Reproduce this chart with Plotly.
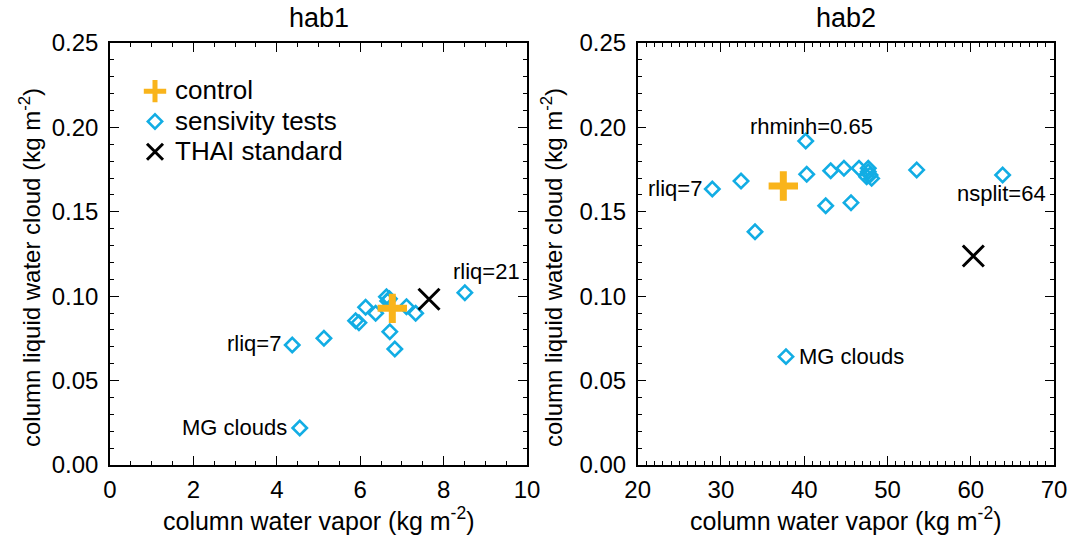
import plotly.graph_objects as go

# ---------------- data ----------------
panel_titles = ["hab1", "hab2"]

hab1_sens_x = [4.37, 5.13, 5.89, 5.97, 6.13, 6.37, 6.63, 6.66, 6.70, 6.71, 6.83, 7.11, 7.33, 8.51, 4.55]
hab1_sens_y = [0.0711, 0.0751, 0.0855, 0.0843, 0.0934, 0.0899, 0.0997, 0.0972, 0.0985, 0.0790, 0.0687, 0.0938, 0.0899, 0.1021, 0.0219]
hab1_ctrl_x = [6.77]
hab1_ctrl_y = [0.0928]
hab1_thai_x = [7.65]
hab1_thai_y = [0.0982]

hab2_sens_x = [28.96, 32.41, 34.09, 40.18, 40.30, 42.58, 43.18, 44.77, 45.62, 46.58, 47.69, 47.69, 47.90, 47.50, 48.10, 53.51, 63.83, 37.81]
hab2_sens_y = [0.1635, 0.1682, 0.1382, 0.1919, 0.1722, 0.1536, 0.1743, 0.1758, 0.1554, 0.1758, 0.1758, 0.1738, 0.1718, 0.1708, 0.1698, 0.1748, 0.1718, 0.0642]
hab2_ctrl_x = [37.49]
hab2_ctrl_y = [0.1653]
hab2_thai_x = [60.31]
hab2_thai_y = [0.1238]

# labels: (text, index of sensitivity point)
hab1_labels = [("rliq=7", 0), ("rliq=21", 13), ("MG clouds", 14)]
hab2_labels = [("rliq=7", 0), ("rhminh=0.65", 3), ("nsplit=64", 16), ("MG clouds", 17)]

legend_names = ["control", "sensivity tests", "THAI standard"]

x_title = "column water vapor (kg m<sup>-2</sup>)"
y_title = "column liquid water cloud (kg m<sup>-2</sup>)"

# ---------------- style ----------------
FONT = "Liberation Sans, Arial, Helvetica, sans-serif"
CYAN = "#12ADE4"
ORANGE = "#F9B41B"
W, H = 1070, 535

dom_x1 = [110 / W, 527 / W]
dom_x2 = [637.7 / W, 1054 / W]
dom_y = [(H - 465) / H, (H - 43) / H]

LEG_TEXT_PX = 26   # visible legend text size
LEG_LINE_PX = 21   # legend font size used for row spacing


def leg(name):
    return '<span style="font-size:%dpx">%s</span>' % (LEG_TEXT_PX, name)


fig = go.Figure()


def add_panel(sx, sy, cx, cy, tx, ty, xa, ya, show):
    # sensitivity diamonds first (drawn underneath)
    fig.add_trace(go.Scatter(
        x=sx, y=sy, mode="markers", name=leg(legend_names[1]), showlegend=show,
        legendrank=2, xaxis=xa, yaxis=ya,
        marker=dict(symbol="diamond-open", size=11, color=CYAN,
                    line=dict(color=CYAN, width=2.6))))
    fig.add_trace(go.Scatter(
        x=cx, y=cy, mode="markers", name=leg(legend_names[0]), showlegend=show,
        legendrank=1, xaxis=xa, yaxis=ya,
        marker=dict(symbol="cross-thin", size=21, color=ORANGE,
                    line=dict(color=ORANGE, width=7))))
    fig.add_trace(go.Scatter(
        x=tx, y=ty, mode="markers", name=leg(legend_names[2]), showlegend=show,
        legendrank=3, xaxis=xa, yaxis=ya,
        marker=dict(symbol="x-thin", size=21, color="black",
                    line=dict(color="black", width=3))))


add_panel(hab1_sens_x, hab1_sens_y, hab1_ctrl_x, hab1_ctrl_y,
          hab1_thai_x, hab1_thai_y, "x", "y", True)
add_panel(hab2_sens_x, hab2_sens_y, hab2_ctrl_x, hab2_ctrl_y,
          hab2_thai_x, hab2_thai_y, "x2", "y2", False)

tickfont = dict(family=FONT, size=24, color="black")


def xaxis(dom, rng, dt, mdt, anchor):
    return dict(domain=dom, range=rng, anchor=anchor, dtick=dt, tick0=rng[0],
                showgrid=False, zeroline=False, showline=True, linecolor="black",
                linewidth=1.5, mirror="ticks", ticks="inside", ticklen=9,
                tickwidth=1.3, tickcolor="black", tickfont=tickfont,
                ticklabelstandoff=2, automargin=False,
                minor=dict(dtick=mdt, tick0=rng[0], ticks="inside", ticklen=4.5,
                           tickwidth=1.2, tickcolor="black", showgrid=False))


def yaxis(anchor):
    return dict(domain=dom_y, range=[0, 0.25], anchor=anchor, dtick=0.05, tick0=0,
                tickformat=".2f", showgrid=False, zeroline=False, showline=True,
                linecolor="black", linewidth=1.5, mirror="ticks", ticks="inside",
                ticklen=9, tickwidth=1.3, tickcolor="black", tickfont=tickfont,
                ticklabelstandoff=5, automargin=False,
                minor=dict(dtick=0.01, tick0=0, ticks="inside", ticklen=4.5,
                           tickwidth=1.2, tickcolor="black", showgrid=False))


annotations = []
afont = dict(family=FONT, size=22, color="black")


def label_anns(labels, sx, sy, xr, yr, place):
    for (txt, i) in labels:
        pos = place[txt]
        annotations.append(dict(x=sx[i], y=sy[i], xref=xr, yref=yr, text=txt,
                                showarrow=False, font=afont,
                                xanchor=pos[0], yanchor=pos[1],
                                xshift=pos[2], yshift=pos[3]))


label_anns(hab1_labels, hab1_sens_x, hab1_sens_y, "x", "y",
           {"rliq=7": ("right", "middle", -9, 1),
            "rliq=21": ("center", "middle", 22, 21),
            "MG clouds": ("right", "middle", -11, 1)})
label_anns(hab2_labels, hab2_sens_x, hab2_sens_y, "x2", "y2",
           {"rliq=7": ("right", "middle", -8, 1),
            "rhminh=0.65": ("center", "middle", 6, 15),
            "nsplit=64": ("center", "middle", -1, -19),
            "MG clouds": ("left", "middle", 11, 0)})

# panel titles and axis titles
for t, dom in zip(panel_titles, [dom_x1, dom_x2]):
    cx = (dom[0] + dom[1]) / 2
    annotations.append(dict(x=cx, y=1 - 18 / H, xref="paper", yref="paper", text=t,
                            showarrow=False, font=dict(family=FONT, size=27, color="black"),
                            xanchor="center", yanchor="middle"))
    annotations.append(dict(x=cx, y=1 - 519 / H, xref="paper", yref="paper", text=x_title,
                            showarrow=False, font=dict(family=FONT, size=25, color="black"),
                            xanchor="center", yanchor="middle"))
for xp in [30 / W, 552 / W]:
    annotations.append(dict(x=xp, y=1 - 268 / H, xref="paper", yref="paper",
                            text=y_title, textangle=-90, showarrow=False,
                            font=dict(family=FONT, size=24, color="black"),
                            xanchor="center", yanchor="middle"))

fig.update_layout(
    width=W, height=H,
    margin=dict(l=0, r=0, t=0, b=0),
    paper_bgcolor="white", plot_bgcolor="white",
    xaxis=xaxis(dom_x1, [0, 10], 2, 0.5, "y"),
    yaxis=yaxis("x"),
    xaxis2=xaxis(dom_x2, [20, 70], 10, 1, "y2"),
    yaxis2=yaxis("x2"),
    annotations=annotations,
    showlegend=True,
    legend=dict(x=135 / W, y=1 - 71 / H, xanchor="left", yanchor="top",
                bgcolor="rgba(0,0,0,0)", borderwidth=0,
                font=dict(family=FONT, size=LEG_LINE_PX, color="black"),
                traceorder="normal", itemsizing="trace"),
    font=dict(family=FONT, color="black"),
)

fig.write_html("out.html")
